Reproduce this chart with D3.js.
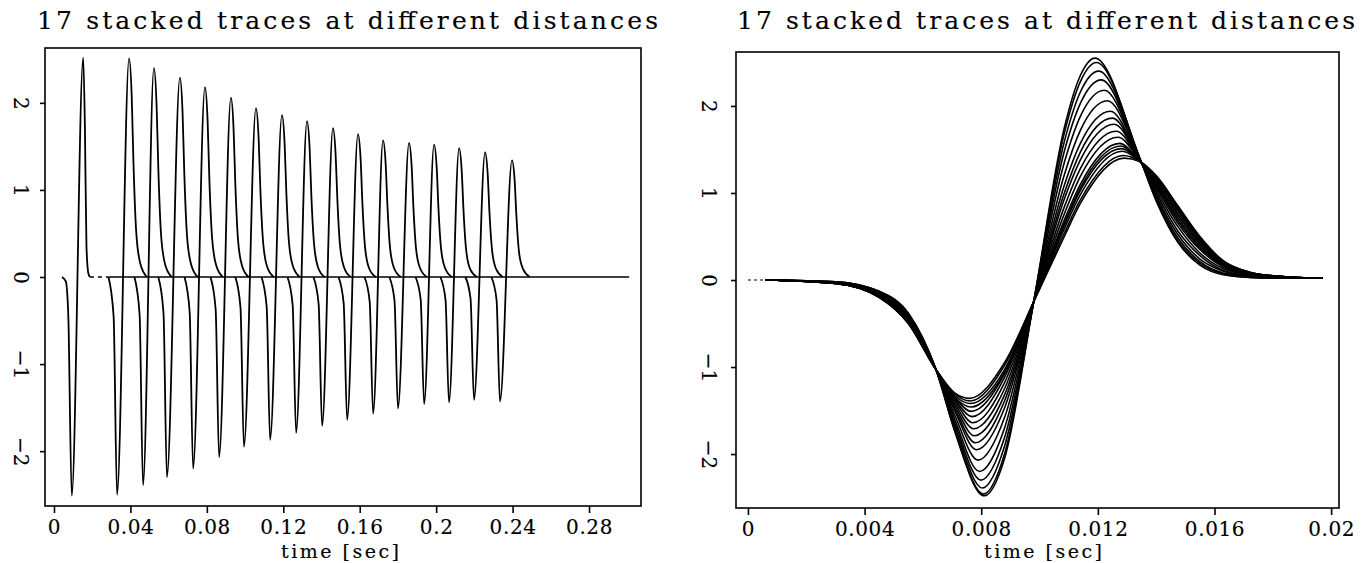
<!doctype html>
<html>
<head>
<meta charset="utf-8">
<script src="https://d3js.org/d3.v7.min.js"></script>
<title>17 stacked traces</title>
<style>
  body { margin: 0; background: #fff; }
  svg text { font-family: "DejaVu Serif", serif; fill: #000; stroke: #000; stroke-width: 0.15px; }
</style>
</head>
<body>
<svg id="svg1" width="1364" height="563"></svg>
<script>
// ---- text / ticks ----
const titleText = "17 stacked traces at different distances";
const axisTitle = "time [sec]";
const yTicks = [-2, -1, 0, 1, 2];
const leftXTicks = [0, 0.04, 0.08, 0.12, 0.16, 0.2, 0.24, 0.28];
const rightXTicks = [0, 0.004, 0.008, 0.012, 0.016, 0.02];

// ---- left panel: traces at their arrival times, [time, amplitude] ----
const leftTraces = [
  [[0.0042,0],[0.0062,-0.05],[0.0075,-0.45],[0.0093,-2.51],[0.0153,2.52],[0.0162,1.69],[0.0170,0.35],[0.0180,0.04],[0.0188,0]],
  [[0.0285,0],[0.0312,-0.45],[0.0330,-2.50],[0.0393,2.51],[0.0407,2.06],[0.0416,1.31],[0.0430,0.53],[0.0451,0.16],[0.0486,0]],
  [[0.0421,0],[0.0448,-0.43],[0.0466,-2.39],[0.0523,2.40],[0.0537,1.97],[0.0546,1.25],[0.0560,0.50],[0.0581,0.15],[0.0616,0]],
  [[0.0546,0],[0.0573,-0.41],[0.0591,-2.30],[0.0659,2.29],[0.0673,1.88],[0.0682,1.19],[0.0696,0.48],[0.0717,0.15],[0.0752,0]],
  [[0.0683,0],[0.0710,-0.40],[0.0728,-2.20],[0.0790,2.18],[0.0804,1.79],[0.0813,1.13],[0.0827,0.46],[0.0848,0.14],[0.0883,0]],
  [[0.0819,0],[0.0846,-0.37],[0.0864,-2.07],[0.0926,2.06],[0.0940,1.69],[0.0949,1.07],[0.0963,0.43],[0.0984,0.13],[0.1019,0]],
  [[0.0949,0],[0.0976,-0.35],[0.0994,-1.95],[0.1057,1.94],[0.1071,1.59],[0.1080,1.01],[0.1094,0.41],[0.1115,0.12],[0.1150,0]],
  [[0.1086,0],[0.1113,-0.34],[0.1131,-1.87],[0.1193,1.86],[0.1207,1.53],[0.1216,0.97],[0.1230,0.39],[0.1251,0.12],[0.1286,0]],
  [[0.1222,0],[0.1249,-0.32],[0.1267,-1.79],[0.1324,1.79],[0.1338,1.47],[0.1347,0.93],[0.1361,0.38],[0.1382,0.11],[0.1417,0]],
  [[0.1358,0],[0.1385,-0.31],[0.1403,-1.71],[0.1460,1.71],[0.1474,1.40],[0.1483,0.89],[0.1497,0.36],[0.1518,0.11],[0.1553,0]],
  [[0.1489,0],[0.1516,-0.30],[0.1534,-1.64],[0.1591,1.64],[0.1605,1.34],[0.1614,0.85],[0.1628,0.34],[0.1649,0.10],[0.1684,0]],
  [[0.1625,0],[0.1652,-0.28],[0.1670,-1.57],[0.1722,1.57],[0.1736,1.29],[0.1745,0.82],[0.1759,0.33],[0.1780,0.10],[0.1815,0]],
  [[0.1755,0],[0.1782,-0.27],[0.1800,-1.51],[0.1858,1.54],[0.1872,1.26],[0.1881,0.80],[0.1895,0.32],[0.1916,0.10],[0.1951,0]],
  [[0.1892,0],[0.1919,-0.26],[0.1937,-1.46],[0.1989,1.52],[0.2003,1.25],[0.2012,0.79],[0.2026,0.32],[0.2047,0.10],[0.2082,0]],
  [[0.2022,0],[0.2049,-0.26],[0.2067,-1.44],[0.2120,1.48],[0.2134,1.21],[0.2143,0.77],[0.2157,0.31],[0.2178,0.09],[0.2213,0]],
  [[0.2153,0],[0.2180,-0.25],[0.2198,-1.41],[0.2256,1.43],[0.2270,1.17],[0.2279,0.74],[0.2293,0.30],[0.2314,0.09],[0.2349,0]],
  [[0.2289,0],[0.2316,-0.26],[0.2334,-1.43],[0.2397,1.34],[0.2411,1.10],[0.2420,0.70],[0.2434,0.28],[0.2455,0.09],[0.2490,0]]
];
const leftGap = [[0.0188, 0], [0.0285, 0]];       // dashed bit between first and second trace
const leftBaseline = [[0.0285, 0], [0.301, 0]];

// ---- right panel: the same traces aligned in time ----
const rightTimes = [0.0006, 0.003, 0.0045, 0.0055, 0.00645, 0.0071, 0.0088, 0.0098, 0.01085, 0.0114,
                    0.01345, 0.014, 0.01475, 0.0155, 0.0163, 0.0172, 0.0183, 0.0197];
const rightValues = [
  [0,-0.02,-0.13,-0.38,-1.03,-1.75,-2.05,-0.25,1.75,2.35,1.39,0.91,0.43,0.17,0.06,0.03,0.02,0.02],
  [0,-0.02,-0.13,-0.39,-1.03,-1.73,-2.00,-0.25,1.69,2.28,1.39,0.92,0.45,0.19,0.07,0.03,0.02,0.02],
  [0,-0.02,-0.14,-0.40,-1.03,-1.69,-1.91,-0.25,1.59,2.16,1.39,0.95,0.48,0.21,0.08,0.04,0.02,0.02],
  [0,-0.02,-0.15,-0.41,-1.03,-1.65,-1.81,-0.25,1.48,2.03,1.38,0.97,0.52,0.24,0.10,0.04,0.02,0.02],
  [0,-0.03,-0.15,-0.42,-1.03,-1.61,-1.70,-0.25,1.35,1.88,1.38,1.00,0.56,0.28,0.11,0.05,0.03,0.02],
  [0,-0.03,-0.16,-0.43,-1.03,-1.56,-1.58,-0.25,1.21,1.72,1.38,1.03,0.61,0.31,0.13,0.06,0.03,0.02],
  [0,-0.03,-0.17,-0.44,-1.03,-1.51,-1.47,-0.25,1.09,1.57,1.37,1.06,0.65,0.35,0.15,0.06,0.03,0.02],
  [0,-0.03,-0.17,-0.45,-1.03,-1.48,-1.39,-0.25,1.00,1.47,1.37,1.08,0.68,0.37,0.16,0.07,0.03,0.02],
  [0,-0.03,-0.18,-0.46,-1.03,-1.45,-1.32,-0.25,0.93,1.38,1.37,1.10,0.71,0.39,0.17,0.07,0.03,0.02],
  [0,-0.03,-0.18,-0.47,-1.03,-1.42,-1.25,-0.25,0.84,1.28,1.37,1.12,0.74,0.41,0.18,0.07,0.03,0.02],
  [0,-0.04,-0.19,-0.48,-1.03,-1.39,-1.18,-0.25,0.76,1.19,1.37,1.14,0.76,0.43,0.19,0.08,0.04,0.02],
  [0,-0.04,-0.19,-0.48,-1.03,-1.37,-1.12,-0.25,0.69,1.10,1.36,1.16,0.79,0.45,0.20,0.08,0.04,0.02],
  [0,-0.04,-0.19,-0.49,-1.03,-1.35,-1.08,-0.25,0.65,1.06,1.36,1.17,0.80,0.46,0.20,0.08,0.04,0.02],
  [0,-0.04,-0.19,-0.49,-1.03,-1.35,-1.06,-0.25,0.63,1.03,1.36,1.17,0.81,0.47,0.20,0.08,0.04,0.02],
  [0,-0.04,-0.20,-0.49,-1.03,-1.33,-1.03,-0.25,0.59,0.98,1.36,1.18,0.82,0.48,0.21,0.09,0.04,0.02],
  [0,-0.04,-0.20,-0.50,-1.03,-1.31,-0.98,-0.25,0.54,0.92,1.36,1.19,0.84,0.49,0.22,0.09,0.04,0.02],
  [0,-0.04,-0.20,-0.50,-1.03,-1.30,-0.95,-0.25,0.50,0.88,1.36,1.20,0.85,0.50,0.22,0.09,0.04,0.02]
];
const dipTimes = [0.00810,0.00808,0.00804,0.00799,0.00794,0.00789,0.00784,0.00780,0.00777,0.00774,0.00771,0.00768,0.00766,0.00765,0.00764,0.00762,0.00760];
const dipValues = [-2.48,-2.46,-2.39,-2.30,-2.20,-2.07,-1.95,-1.87,-1.79,-1.71,-1.64,-1.57,-1.51,-1.46,-1.42,-1.39,-1.36];
const peakTimes = [0.01190,0.01195,0.01203,0.01212,0.01222,0.01233,0.01243,0.01250,0.01256,0.01263,0.01269,0.01275,0.01278,0.01280,0.01283,0.01287,0.01290];
const peakValues = [2.55,2.50,2.40,2.30,2.18,2.06,1.94,1.86,1.79,1.71,1.64,1.57,1.54,1.51,1.48,1.43,1.40];
const rightLeader = [[0, 0], [0.0006, 0]];

let svg = d3.select("#svg1");
svg.append("rect").attr("width", 1364).attr("height", 563).attr("fill", "#fff").attr("stroke", "none");

function rightTrace(i) {
  let pts = rightTimes.map((t, j) => [t, rightValues[i][j]]);
  pts.push([dipTimes[i], dipValues[i]], [peakTimes[i], peakValues[i]]);
  return pts.sort((a, b) => a[0] - b[0]);
}

function drawPanel(p) {
  let g = svg.append("g");
  let x = d3.scaleLinear().domain(p.xDomain).range([p.left, p.right]);
  let y = d3.scaleLinear().domain(p.yDomain).range([p.bottom, p.top]);

  let line = d3.line()
    .x(d => x(d[0]))
    .y(d => y(d[1]))
    .curve(d3.curveMonotoneX);

  // traces
  g.append("g").selectAll("path")
    .data(p.traces)
    .join("path")
    .attr("d", line)
    .attr("fill", "none")
    .attr("stroke", "#000")
    .attr("stroke-width", p.lineWidth)
    .attr("stroke-linejoin", "round");

  p.extras.forEach(e => {
    g.append("path")
      .attr("d", d3.line().x(d => x(d[0])).y(d => y(d[1]))(e.data))
      .attr("fill", "none")
      .attr("stroke", "#000")
      .attr("stroke-width", e.width)
      .attr("stroke-dasharray", e.dash || null);
  });

  // frame
  g.append("rect")
    .attr("x", p.left).attr("y", p.top)
    .attr("width", p.right - p.left).attr("height", p.bottom - p.top)
    .attr("fill", "none").attr("stroke", "#000").attr("stroke-width", 1.6);

  let xAxis = g.append("g")
    .attr("transform", `translate(0, ${p.bottom})`)
    .call(d3.axisBottom(x).tickValues(p.xTicks).tickFormat(d3.format("~g")).tickSize(7).tickPadding(7));
  xAxis.select(".domain").remove();
  xAxis.selectAll(".tick line").attr("stroke-width", 1.6);
  xAxis.selectAll(".tick text")
    .attr("font-size", 20)
    .attr("letter-spacing", 0.6)
    .attr("font-family", "DejaVu Serif");

  let yAxis = g.append("g")
    .attr("transform", `translate(${p.left}, 0)`)
    .call(d3.axisLeft(y).tickValues(yTicks).tickFormat(d3.format("d")).tickSize(5));
  yAxis.select(".domain").remove();
  yAxis.selectAll(".tick line").attr("stroke-width", 1.6);
  yAxis.selectAll(".tick text")
    .attr("x", null).attr("dy", "0.36em")
    .attr("text-anchor", "middle")
    .attr("transform", `translate(${-p.yLabelOffset}, 0) rotate(90)`)
    .attr("font-size", 20)
    .attr("font-family", "DejaVu Serif");

  g.append("text")
    .attr("x", p.titleX).attr("y", 29)
    .attr("font-size", 25)
    .attr("textLength", p.titleWidth)
    .attr("lengthAdjust", "spacing")
    .text(titleText);

  g.append("text")
    .attr("x", p.axisTitleX - 59).attr("y", 558)
    .attr("font-size", 19)
    .attr("textLength", 118)
    .attr("lengthAdjust", "spacing")
    .text(axisTitle);
}

drawPanel({
  left: 45, right: 641, top: 48, bottom: 506,
  xDomain: [-0.0047, 0.3072], yDomain: [-2.63, 2.63],
  xTicks: leftXTicks,
  traces: leftTraces,
  lineWidth: 1.8,
  extras: [
    { data: leftGap, width: 1.3, dash: "4,4" },
    { data: leftBaseline, width: 1.7 }
  ],
  yLabelOffset: 24,
  titleX: 37, titleWidth: 621,
  axisTitleX: 340
});

drawPanel({
  left: 736, right: 1339, top: 52, bottom: 508,
  xDomain: [-0.00041, 0.02027], yDomain: [-2.62, 2.62],
  xTicks: rightXTicks,
  traces: d3.range(rightValues.length).map(rightTrace),
  lineWidth: 1.6,
  extras: [
    { data: rightLeader, width: 1.2, dash: "3,3" }
  ],
  yLabelOffset: 27,
  titleX: 737, titleWidth: 618,
  axisTitleX: 1043
});
</script>
</body>
</html>
